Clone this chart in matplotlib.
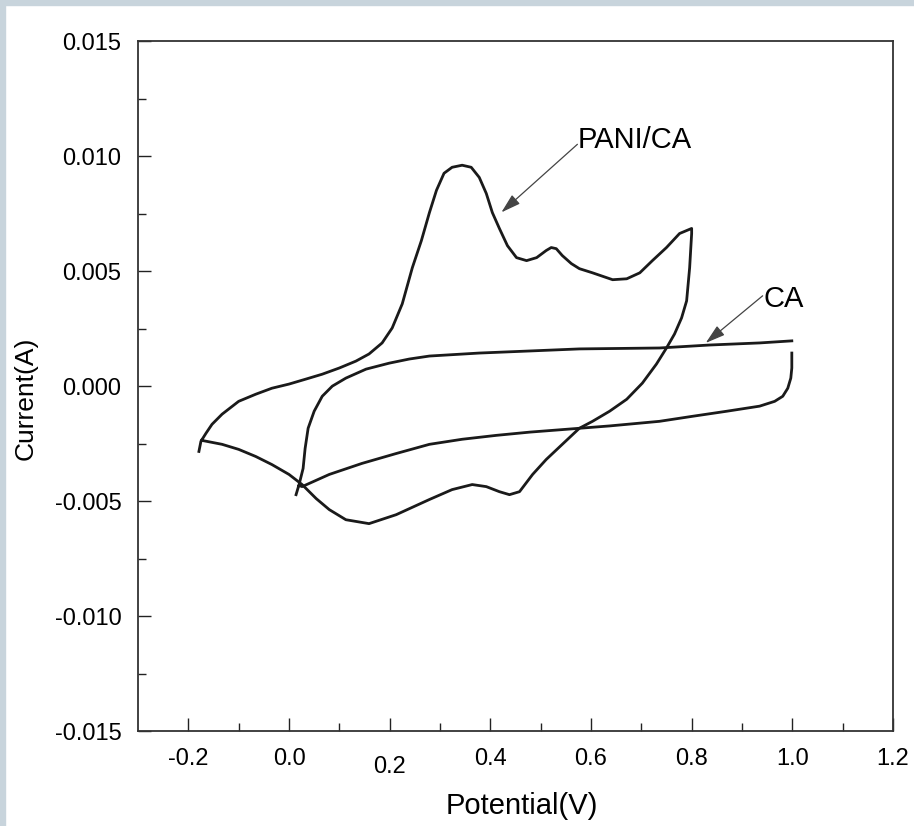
import numpy as np
import matplotlib
matplotlib.use("Agg")
import matplotlib.pyplot as plt
from matplotlib.patches import Rectangle
from matplotlib.transforms import ScaledTranslation

plt.rcParams['font.family'] = ['Liberation Sans', 'DejaVu Sans']

# PANI/CA cyclic voltammogram (potential V, current A)
pani_v = [-0.179, -0.175, -0.165, -0.153, -0.133, -0.100, -0.066, -0.034, 0.000, 0.034,
          0.066, 0.100, 0.133, 0.159, 0.185, 0.205, 0.225, 0.245, 0.263, 0.279,
          0.293, 0.308, 0.324, 0.344, 0.362, 0.378, 0.392, 0.404, 0.418, 0.434,
          0.452, 0.472, 0.492, 0.511, 0.521, 0.531, 0.543, 0.561, 0.577, 0.603,
          0.643, 0.671, 0.697, 0.722, 0.750, 0.776, 0.800,
          0.800, 0.798, 0.796, 0.790, 0.780, 0.766, 0.750, 0.730, 0.702, 0.671,
          0.637, 0.603, 0.577, 0.543, 0.511, 0.484, 0.458, 0.438, 0.418, 0.392,
          0.364, 0.324, 0.279, 0.213, 0.159, 0.113, 0.080, 0.054, 0.026, 0.000,
          -0.034, -0.066, -0.100, -0.133, -0.173]
pani_i = [-0.00284, -0.00240, -0.00205, -0.00166, -0.00122, -0.00066, -0.00035, -0.00009, 0.00009, 0.00031,
          0.00052, 0.00079, 0.00109, 0.00140, 0.00188, 0.00253, 0.00358, 0.00515, 0.00633, 0.00755,
          0.00852, 0.00926, 0.00952, 0.00961, 0.00952, 0.00908, 0.00838, 0.00755, 0.00686, 0.00611,
          0.00559, 0.00546, 0.00559, 0.00590, 0.00603, 0.00598, 0.00568, 0.00533, 0.00511, 0.00493,
          0.00463, 0.00467, 0.00493, 0.00546, 0.00603, 0.00664, 0.00686,
          0.00664, 0.00590, 0.00515, 0.00371, 0.00297, 0.00227, 0.00166, 0.00096, 0.00013, -0.00057,
          -0.00109, -0.00153, -0.00183, -0.00253, -0.00319, -0.00384, -0.00459, -0.00472, -0.00459, -0.00437,
          -0.00428, -0.00450, -0.00493, -0.00559, -0.00598, -0.00581, -0.00537, -0.00489, -0.00428, -0.00384,
          -0.00341, -0.00306, -0.00275, -0.00253, -0.00236]

# CA: upper sweep, break, lower sweep
ca_v = [0.014, 0.020, 0.028, 0.032, 0.038, 0.050, 0.066, 0.086, 0.113, 0.153,
        0.199, 0.239, 0.279, 0.378, 0.478, 0.577, 0.736, 0.836, 0.935, 0.999,
        np.nan,
        0.999, 0.999, 0.997, 0.991, 0.981, 0.965, 0.935, 0.870, 0.802, 0.736,
        0.637, 0.537, 0.478, 0.412, 0.344, 0.279, 0.213, 0.145, 0.080, 0.026, 0.020]
ca_i = [-0.00472, -0.00428, -0.00358, -0.00271, -0.00183, -0.00109, -0.00044, 0.00000, 0.00035, 0.00074,
        0.00100, 0.00118, 0.00131, 0.00144, 0.00153, 0.00162, 0.00166, 0.00179, 0.00188, 0.00197,
        np.nan,
        0.00144, 0.00079, 0.00035, -0.00009, -0.00044, -0.00066, -0.00087, -0.00109, -0.00131, -0.00153,
        -0.00173, -0.00190, -0.00200, -0.00214, -0.00231, -0.00253, -0.00293, -0.00336, -0.00384, -0.00437, -0.00432]

x_ticks = [-0.2, 0.0, 0.2, 0.4, 0.6, 0.8, 1.0, 1.2]
x_labels = ['-0.2', '0.0', '0.2', '0.4', '0.6', '0.8', '1.0', '1.2']
y_ticks = [-0.015, -0.010, -0.005, 0.000, 0.005, 0.010, 0.015]
y_labels = ['-0.015', '-0.010', '-0.005', '0.000', '0.005', '0.010', '0.015']

fig = plt.figure(figsize=(9.14, 8.26), dpi=100)
# light blue-grey frame on the left and top edges
fig.patches.append(Rectangle((0, 0), 5 / 914, 1, transform=fig.transFigure,
                             color='#c8d4dc', zorder=0))
fig.patches.append(Rectangle((0, 1 - 5 / 826), 1, 5 / 826, transform=fig.transFigure,
                             color='#c8d4dc', zorder=0))

ax = fig.add_axes([0.151, 0.115, 0.826, 0.835])
ax.plot(pani_v, pani_i, color='#1a1a1a', lw=2.0, solid_joinstyle='round')
ax.plot(ca_v, ca_i, color='#1a1a1a', lw=2.0, solid_joinstyle='round')

ax.set_xlim(-0.3, 1.2)
ax.set_ylim(-0.015, 0.015)
ax.set_xticks(x_ticks)
ax.set_xticklabels(x_labels)
ax.set_yticks(y_ticks)
ax.set_yticklabels(y_labels)
ax.set_xticks(np.arange(-0.1, 1.2, 0.2), minor=True)
ax.set_yticks(np.arange(-0.0125, 0.015, 0.005), minor=True)
ax.tick_params(which='both', direction='in', top=False, right=False, colors='#222222')
ax.tick_params(which='major', length=9.5, width=1.0, labelsize=17, labelcolor='black')
ax.tick_params(axis='x', which='major', pad=12)
ax.tick_params(axis='y', which='major', pad=12)
ax.tick_params(which='minor', length=5.8, width=1.0)
for s in ax.spines.values():
    s.set_color('#333333')
    s.set_linewidth(1.3)

# the "0.2" label sits a little lower in the original
lab = ax.get_xticklabels()[2]
lab.set_transform(lab.get_transform() + ScaledTranslation(0, -8 / 100, fig.dpi_scale_trans))

ax.set_xlabel('Potential(V)', fontsize=21, labelpad=10.5)
ax.xaxis.label.set_x(0.509)
ax.set_ylabel('Current(A)', fontsize=19, labelpad=12)
ax.yaxis.label.set_y(0.482)

arrow = dict(arrowstyle='-|>,head_length=0.6,head_width=0.18', color='#444444',
             lw=0.9, mutation_scale=20, shrinkA=0, shrinkB=0)
ax.annotate('', xy=(0.422, 0.00756), xytext=(0.573, 0.01052), arrowprops=arrow)
ax.annotate('', xy=(0.828, 0.00188), xytext=(0.941, 0.00393), arrowprops=arrow)
ax.text(0.574, 0.01070, 'PANI/CA', fontsize=21, va='center', ha='left')
ax.text(0.943, 0.00380, 'CA', fontsize=21, va='center', ha='left')

fig.savefig('out.png', dpi=100)
